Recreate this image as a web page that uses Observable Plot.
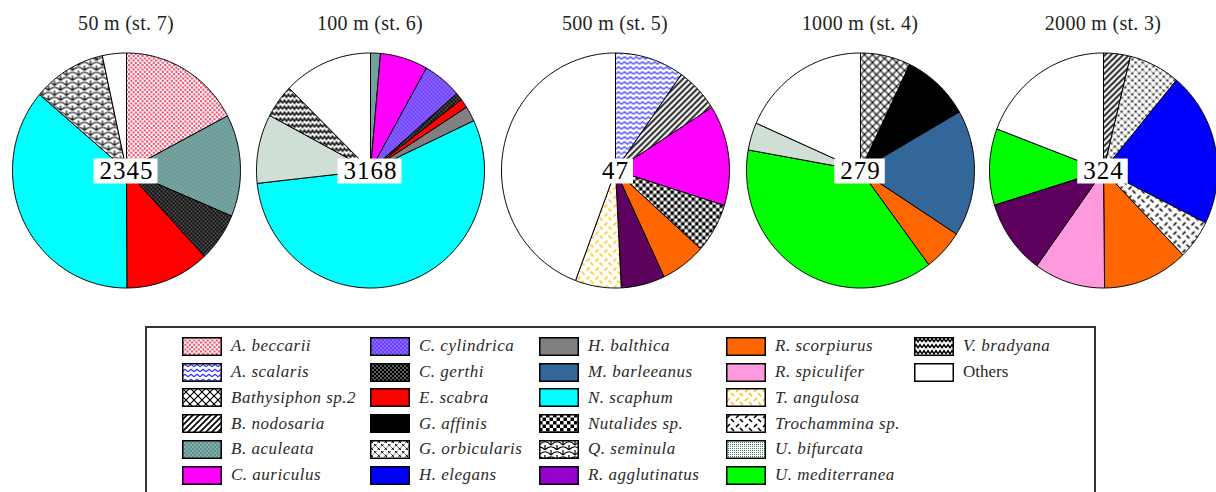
<!DOCTYPE html>
<html><head><meta charset="utf-8">
<script src="https://cdn.jsdelivr.net/npm/d3@7"></script>
<script src="https://cdn.jsdelivr.net/npm/@observablehq/plot@0.6"></script>
<style>
html,body{margin:0;padding:0;background:#fff;overflow:hidden;}
#root{position:relative;width:1216px;height:492px;overflow:hidden;font-family:"Liberation Serif","Times New Roman",serif;}
.title{position:absolute;top:12px;width:240px;text-align:center;font-size:20px;color:#222;letter-spacing:0.3px;white-space:nowrap;}
.pie{position:absolute;top:50px;}
#legend{position:absolute;left:145px;top:326px;width:951px;height:200px;border:2px solid #333;box-sizing:border-box;}
.item{position:absolute;display:flex;align-items:center;height:19px;}
.item svg{display:block;flex:none;}
.item span{margin-left:9px;font-style:italic;font-size:17px;color:#2a2a2a;letter-spacing:0.5px;white-space:nowrap;}
.item span.plain{font-style:normal;letter-spacing:0;}
</style></head><body>
<svg width="0" height="0" style="position:absolute">
<defs>
<pattern id="p-beccarii" patternUnits="userSpaceOnUse" width="4.5" height="4.5">
  <rect width="4.5" height="4.5" fill="#fff"/>
  <circle cx="1.1" cy="1.1" r="1.15" fill="#e8405f"/>
  <circle cx="3.35" cy="3.35" r="1.15" fill="#e8405f"/>
</pattern>
<pattern id="p-scalaris" patternUnits="userSpaceOnUse" width="6" height="5">
  <rect width="6" height="5" fill="#fff"/>
  <path d="M0 3.8 L3 1.2 L6 3.8" stroke="#2b2bff" stroke-width="1.2" fill="none"/>
</pattern>
<pattern id="p-bathy" patternUnits="userSpaceOnUse" width="8" height="8">
  <rect width="8" height="8" fill="#fff"/>
  <path d="M0 0 L8 8 M8 0 L0 8" stroke="#000" stroke-width="1.2" fill="none"/>
</pattern>
<pattern id="p-nodosaria" patternUnits="userSpaceOnUse" width="6" height="6">
  <rect width="6" height="6" fill="#fff"/>
  <path d="M-1.5 1.5 L1.5 -1.5 M0 6 L6 0 M4.5 7.5 L7.5 4.5" stroke="#000" stroke-width="1.7" fill="none"/>
</pattern>
<pattern id="p-aculeata" patternUnits="userSpaceOnUse" width="4" height="4">
  <rect width="4" height="4" fill="#5f9490"/>
  <circle cx="1" cy="1" r="0.6" fill="#fff"/>
  <circle cx="3" cy="3" r="0.6" fill="#fff"/>
</pattern>
<pattern id="p-cylindrica" patternUnits="userSpaceOnUse" width="4" height="4">
  <rect width="4" height="4" fill="#6b3dff"/>
  <circle cx="1" cy="1" r="0.6" fill="#fff"/>
  <circle cx="3" cy="3" r="0.6" fill="#fff"/>
</pattern>
<pattern id="p-gerthi" patternUnits="userSpaceOnUse" width="4" height="4">
  <rect width="4" height="4" fill="#000"/>
  <circle cx="1" cy="1" r="0.65" fill="#fff"/>
  <circle cx="3" cy="3" r="0.65" fill="#fff"/>
</pattern>
<pattern id="p-orbicularis" patternUnits="userSpaceOnUse" width="7" height="7">
  <rect width="7" height="7" fill="#fff"/>
  <path d="M0.5 0.5 L3 3 M3 0.5 L0.5 3 M4 4 L6.5 6.5 M6.5 4 L4 6.5" stroke="#000" stroke-width="1" fill="none"/>
</pattern>
<pattern id="p-nutalides" patternUnits="userSpaceOnUse" width="7" height="7">
  <rect width="7" height="7" fill="#fff"/>
  <rect width="3.5" height="3.5" fill="#000"/>
  <rect x="3.5" y="3.5" width="3.5" height="3.5" fill="#000"/>
</pattern>
<pattern id="p-seminula" patternUnits="userSpaceOnUse" width="12" height="10">
  <rect width="12" height="10" fill="#fff"/>
  <path d="M0 5 Q6 -1.5 12 5 M-6 10 Q0 3.5 6 10 M6 10 Q12 3.5 18 10 M0 0 L0 5 M6 5 L6 10 M12 0 L12 5" stroke="#000" stroke-width="1.2" fill="none"/>
</pattern>
<pattern id="p-angulosa" patternUnits="userSpaceOnUse" width="9" height="9">
  <rect width="9" height="9" fill="#fff"/>
  <path d="M1 4 L4 1 M5 5 L8 8" stroke="#ffbf00" stroke-width="1.6" fill="none"/>
</pattern>
<pattern id="p-trochammina" patternUnits="userSpaceOnUse" width="9" height="9">
  <rect width="9" height="9" fill="#fff"/>
  <path d="M1 4 L4 1 M5 5 L8 8" stroke="#000" stroke-width="1.6" fill="none"/>
</pattern>
<pattern id="p-bifurcata" patternUnits="userSpaceOnUse" width="2" height="2">
  <rect width="2" height="2" fill="#fff"/>
  <rect width="1" height="1" fill="#3f7d55"/>
</pattern>
<pattern id="p-bradyana" patternUnits="userSpaceOnUse" width="8" height="6">
  <rect width="8" height="6" fill="#fff"/>
  <path d="M0 4.8 L2 1.6 L4 4.8 L6 1.6 L8 4.8" stroke="#000" stroke-width="1.5" fill="none"/>
</pattern>
</defs>
</svg>
<div id="root"><div id="legend"></div></div>
<script>
// ---- data ----
const stations = ["50 m (st. 7)", "100 m (st. 6)", "500 m (st. 5)", "1000 m (st. 4)", "2000 m (st. 3)"];
const totals = [2345, 3168, 47, 279, 324];

const taxa50 = ["A. beccarii", "B. aculeata", "C. gerthi", "E. scabra", "N. scaphum", "Q. seminula", "Others"];
const pct50 = [17.3, 14.0, 6.7, 11.9, 36.2, 10.4, 3.4];

const taxa100 = ["B. aculeata", "C. auriculus", "C. cylindrica", "C. gerthi", "E. scabra", "H. balthica", "N. scaphum", "U. bifurcata", "V. bradyana", "Others"];
const pct100 = [1.4, 6.75, 5.5, 1.05, 1.25, 2.1, 55.2, 9.5, 4.6, 12.65];

const taxa500 = ["A. scalaris", "B. nodosaria", "C. auriculus", "Nutalides sp.", "R. scorpiurus", "R. agglutinatus", "T. angulosa", "Others"];
const pct500 = [9.8, 6.2, 13.8, 6.8, 6.4, 6.2, 6.5, 44.3];

const taxa1000 = ["Bathysiphon sp.2", "G. affinis", "M. barleeanus", "R. scorpiurus", "U. mediterranea", "U. bifurcata", "Others"];
const pct1000 = [7.1, 9.6, 17.4, 5.7, 38.0, 3.8, 18.4];

const taxa2000 = ["B. nodosaria", "G. orbicularis", "H. elegans", "Trochammina sp.", "R. scorpiurus", "R. spiculifer", "R. agglutinatus", "U. mediterranea", "Others"];
const pct2000 = [3.8, 7.25, 21.3, 5.4, 12.1, 10.1, 10.3, 10.5, 19.25];

const legendTaxa = ["A. beccarii", "A. scalaris", "Bathysiphon sp.2", "B. nodosaria", "B. aculeata", "C. auriculus",
  "C. cylindrica", "C. gerthi", "E. scabra", "G. affinis", "G. orbicularis", "H. elegans",
  "H. balthica", "M. barleeanus", "N. scaphum", "Nutalides sp.", "Q. seminula", "R. agglutinatus",
  "R. scorpiurus", "R. spiculifer", "T. angulosa", "Trochammina sp.", "U. bifurcata", "U. mediterranea",
  "V. bradyana", "Others"];

// ---- styles ----
const taxonFills = ["url(#p-beccarii)", "url(#p-scalaris)", "url(#p-bathy)", "url(#p-nodosaria)", "url(#p-aculeata)", "#ff00ff",
  "url(#p-cylindrica)", "url(#p-gerthi)", "#ff0000", "#000000", "url(#p-orbicularis)", "#0000ff",
  "#808080", "#336699", "#00ffff", "url(#p-nutalides)", "url(#p-seminula)", "#5e005e",
  "#ff6600", "#ff99dd", "url(#p-angulosa)", "url(#p-trochammina)", "url(#p-bifurcata)", "#00ff00",
  "url(#p-bradyana)", "#ffffff"];
const legendFillOverride = {"R. agglutinatus": "#9400cc"};
const fillOf = t => taxonFills[legendTaxa.indexOf(t)];

const pies = [[taxa50, pct50], [taxa100, pct100], [taxa500, pct500], [taxa1000, pct1000], [taxa2000, pct2000]];
const pieCenters = [126, 370, 615, 860, 1103];

function sliceRows(taxa, pct) {
  const total = d3.sum(pct);
  const rows = [];
  let acc = 0;
  taxa.forEach((t, i) => {
    const a0 = acc / total * 2 * Math.PI;
    acc += pct[i];
    const a1 = acc / total * 2 * Math.PI;
    const n = Math.max(2, Math.ceil((a1 - a0) / (Math.PI / 180)));
    rows.push({taxon: t, x: 0, y: 0});
    for (let k = 0; k <= n; k++) {
      const a = a0 + (a1 - a0) * k / n;
      rows.push({taxon: t, x: Math.sin(a), y: Math.cos(a)});
    }
    rows.push({taxon: t, x: 0, y: 0});
  });
  return rows;
}

const root = document.getElementById("root");

pies.forEach(([taxa, pct], i) => {
  const left = pieCenters[i] - 120;
  const title = document.createElement("div");
  title.className = "title";
  title.style.left = left + "px";
  title.textContent = stations[i];
  root.appendChild(title);

  const chart = Plot.plot({
    width: 240, height: 240,
    marginLeft: 6, marginRight: 6, marginTop: 2.5, marginBottom: 2.5,
    x: {domain: [-1, 1], axis: null},
    y: {domain: [-1, 1], axis: null},
    color: {type: "identity"},
    style: {background: "transparent", overflow: "visible"},
    marks: [
      Plot.line(sliceRows(taxa, pct), {x: "x", y: "y", z: "taxon", fill: d => fillOf(d.taxon), stroke: "#000", strokeWidth: 1, strokeLinejoin: "round"}),
      Plot.text([totals[i]], {frameAnchor: "middle", text: d => String(d), fontSize: 25, fill: "#000", fontFamily: "Liberation Serif", className: "ctr"})
    ]
  });
  chart.classList.add("pie");
  chart.style.left = left + "px";
  root.appendChild(chart);

  // white box behind the center count
  chart.querySelectorAll(".ctr text").forEach(t => {
    t.setAttribute("letter-spacing", "1");
    const bb = t.getBBox();
    const r = document.createElementNS("http://www.w3.org/2000/svg", "rect");
    const cy = bb.y + bb.height / 2 + 1;
    r.setAttribute("x", bb.x - 6);
    r.setAttribute("width", bb.width + 10);
    r.setAttribute("y", cy - 12.5);
    r.setAttribute("height", 25);
    r.setAttribute("fill", "#fff");
    const tr = t.getAttribute("transform");
    if (tr) r.setAttribute("transform", tr);
    t.parentNode.insertBefore(r, t);
  });
});

// ---- legend ----
const legend = document.getElementById("legend");
const colX = [35, 223, 392, 579, 767];
legendTaxa.forEach((t, i) => {
  const col = Math.floor(i / 6), row = i % 6;
  const item = document.createElement("div");
  item.className = "item";
  item.style.left = colX[col] + "px";
  item.style.top = (8.7 + row * 25.8) + "px";
  const fill = legendFillOverride[t] || fillOf(t);
  item.innerHTML = `<svg width="40" height="19"><rect x="0.75" y="0.75" width="38.5" height="17.5" fill="${fill}" stroke="#000" stroke-width="1.5"/></svg><span class="${t === "Others" ? "plain" : ""}">${t}</span>`;
  legend.appendChild(item);
});
</script>
</body></html>
